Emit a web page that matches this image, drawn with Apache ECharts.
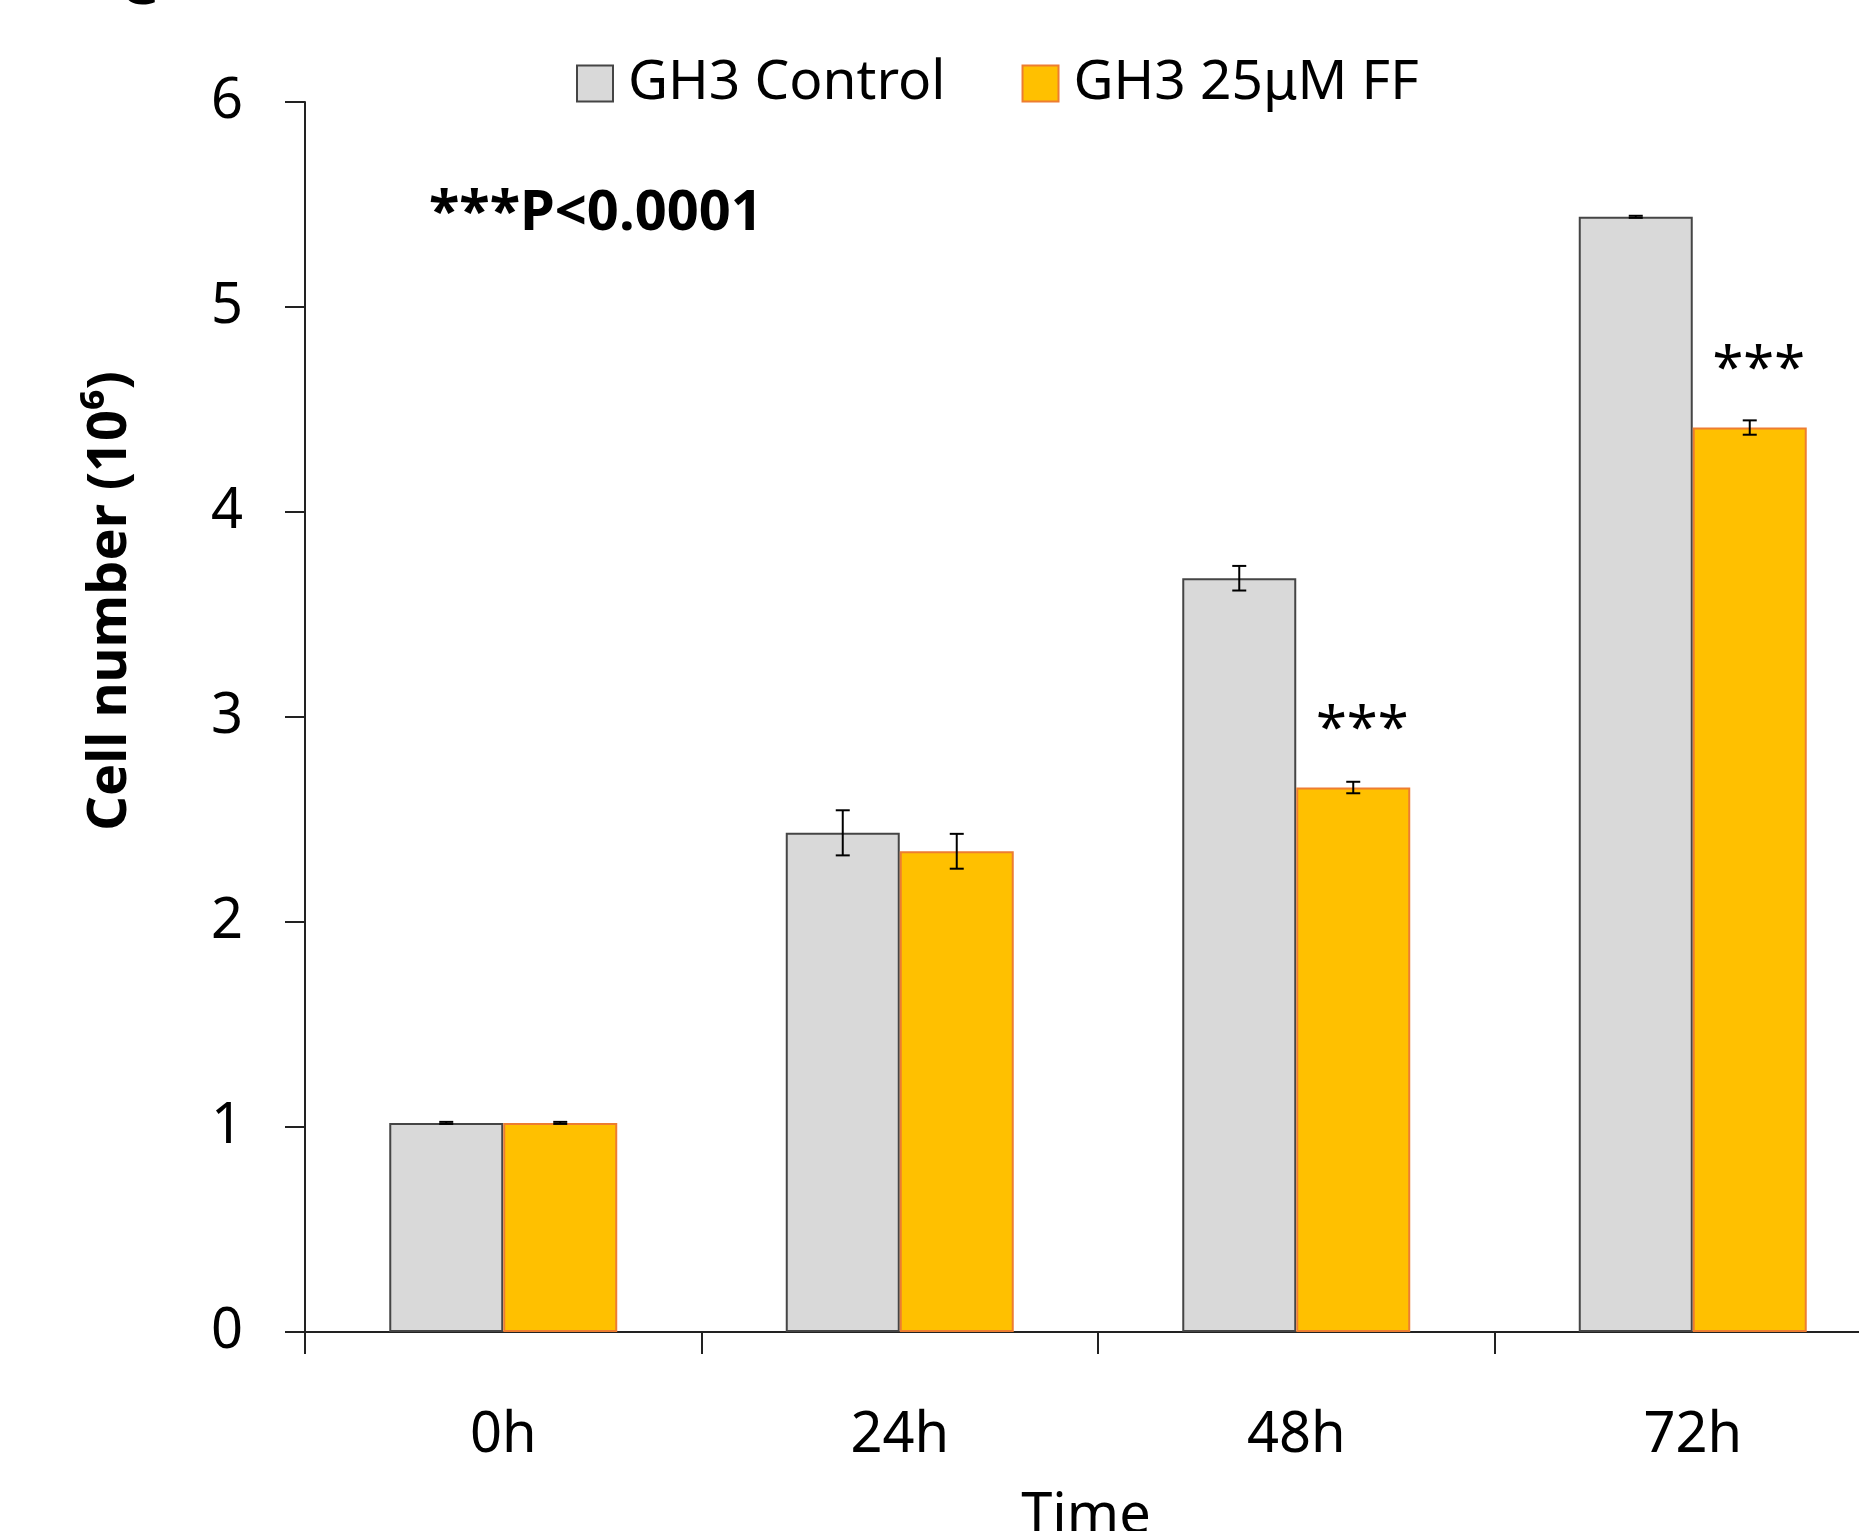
<!DOCTYPE html>
<html>
<head>
<meta charset="utf-8">
<script src="https://cdn.jsdelivr.net/npm/echarts@6/dist/echarts.min.js"></script>
<style>
html,body{margin:0;padding:0;background:#fff;}
#chart{width:1859px;height:1531px;}
</style>
</head>
<body>
<div id="chart"></div>
<script>
// ---- data ----
const categories = ['0h', '24h', '48h', '72h'];
const seriesNames = ['GH3 Control', 'GH3 25μM FF'];
const controlValues = [1.02, 2.435, 3.677, 5.44];
const controlErrors = [0.005, 0.11, 0.06, 0.005];
const ffValues = [1.02, 2.345, 2.656, 4.412];
const ffErrors = [0.005, 0.085, 0.028, 0.035];
const significance = ['', '', '***', '***'];
const yTicks = [0, 1, 2, 3, 4, 5, 6];
const pNote = '***P<0.0001';
const yName = 'Cell number (10\u2076)';
const xName = 'Time';
const panelLetter = 'C';

// ---- chart ----
const FONT = 'Noto Sans';
const chart = echarts.init(document.getElementById('chart'));
const CAT_GAP = 0.425;
const halfShare = (1 - CAT_GAP) / 2;

function errorRender(sign) {
  return function (params, api) {
    const idx = api.value(0);
    const mean = api.value(1);
    const err = api.value(2);
    const catW = api.size([1, 0])[0];
    const bw = catW * halfShare;
    const cx = api.coord([idx, mean])[0] + sign * bw / 2;
    const yTop = api.coord([idx, mean + err])[1];
    const yBot = api.coord([idx, mean - err])[1];
    const cap = 7;
    const st = { stroke: '#000', lineWidth: 2 };
    return {
      type: 'group',
      children: [
        { type: 'line', shape: { x1: cx, y1: yTop, x2: cx, y2: yBot }, style: st },
        { type: 'line', shape: { x1: cx - cap, y1: yTop, x2: cx + cap, y2: yTop }, style: st },
        { type: 'line', shape: { x1: cx - cap, y1: yBot, x2: cx + cap, y2: yBot }, style: st }
      ]
    };
  };
}

const option = {
  backgroundColor: '#ffffff',
  animation: false,
  textStyle: { fontFamily: FONT },
  legend: {
    data: seriesNames,
    icon: 'rect',
    left: 571,
    top: 51,
    itemWidth: 36,
    itemHeight: 36,
    itemGap: 76,
    textStyle: { fontFamily: FONT, fontSize: 55, color: '#000', padding: [0, 0, 0, 10] }
  },
  grid: { left: 305, top: 102, right: -32, bottom: 199, containLabel: false, outerBoundsMode: 'none' },
  xAxis: {
    type: 'category',
    data: categories,
    boundaryGap: true,
    name: xName,
    nameLocation: 'middle',
    nameGap: 157,
    nameTextStyle: { fontFamily: FONT, fontSize: 56, color: '#000', padding: [0, 24, 0, 0] },
    axisLine: { lineStyle: { color: '#222', width: 2 } },
    axisTick: { show: true, length: 22, lineStyle: { color: '#222', width: 2 } },
    axisLabel: { fontFamily: FONT, fontSize: 56, color: '#000', margin: 76 },
    splitLine: { show: false }
  },
  yAxis: {
    type: 'value',
    min: yTicks[0],
    max: yTicks[yTicks.length - 1],
    interval: 1,
    axisLine: { show: true, lineStyle: { color: '#222', width: 2 } },
    axisTick: { show: true, length: 20, lineStyle: { color: '#222', width: 2 } },
    axisLabel: { fontFamily: FONT, fontSize: 56, color: '#000', margin: 62 },
    splitLine: { show: false }
  },
  series: [
    {
      name: seriesNames[0],
      type: 'bar',
      data: controlValues,
      barGap: '0%',
      barCategoryGap: (CAT_GAP * 100) + '%',
      itemStyle: { color: '#d9d9d9', borderColor: '#454545', borderWidth: 2 }
    },
    {
      name: seriesNames[1],
      type: 'bar',
      data: ffValues,
      barGap: '0%',
      barCategoryGap: (CAT_GAP * 100) + '%',
      itemStyle: { color: '#ffc000', borderColor: '#ed7d31', borderWidth: 2 },
      label: {
        show: true,
        position: 'top',
        distance: 28,
        offset: [9, 0],
        fontFamily: FONT,
        fontSize: 56,
        color: '#000',
        formatter: function (p) { return significance[p.dataIndex]; }
      }
    },
    {
      type: 'custom',
      name: 'errControl',
      renderItem: errorRender(-1),
      data: controlValues.map((v, i) => [i, v, controlErrors[i]]),
      z: 10,
      silent: true
    },
    {
      type: 'custom',
      name: 'errFF',
      renderItem: errorRender(1),
      data: ffValues.map((v, i) => [i, v, ffErrors[i]]),
      z: 10,
      silent: true
    }
  ],
  graphic: [
    {
      type: 'text',
      left: 429,
      top: 186,
      style: { text: pNote, font: 'bold 56px "Noto Sans"', fill: '#000' }
    },
    {
      type: 'text',
      x: 111,
      y: 601,
      rotation: Math.PI / 2,
      style: { text: yName, font: 'bold 54px "Noto Sans"', fill: '#000', align: 'center', verticalAlign: 'middle' }
    },
    {
      type: 'text',
      x: 138,
      y: -14,
      style: { text: panelLetter, font: 'bold 64px "Noto Sans"', fill: '#000', align: 'center', verticalAlign: 'middle' }
    }
  ]
};
chart.setOption(option);
</script>
</body>
</html>
